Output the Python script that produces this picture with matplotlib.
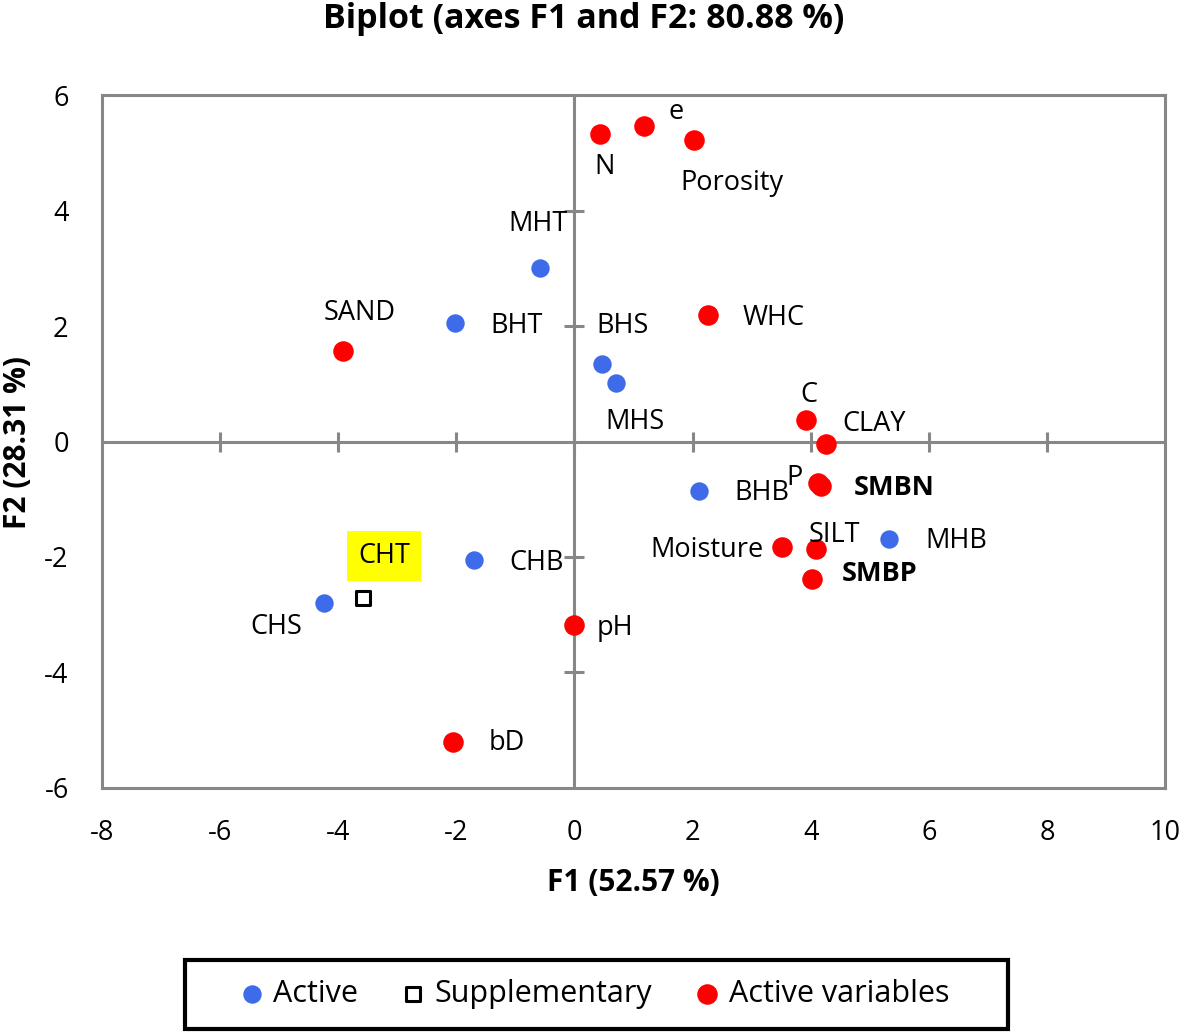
import matplotlib
matplotlib.use('Agg')
import matplotlib.pyplot as plt
from matplotlib.patches import Rectangle

plt.rcParams['font.family'] = ['Open Sans', 'DejaVu Sans']
plt.rcParams['axes.unicode_minus'] = False

# observations (active)
obs_names = ['MHT', 'BHT', 'BHS', 'MHS', 'BHB', 'MHB', 'CHB', 'CHS']
obs_x = [-0.58, -2.02, 0.47, 0.70, 2.11, 5.33, -1.70, -4.24]
obs_y = [3.00, 2.05, 1.34, 1.01, -0.86, -1.69, -2.05, -2.80]

# supplementary observation
sup_names = ['CHT']
sup_x = [-3.58]
sup_y = [-2.71]

# active variables
var_names = ['N', 'e', 'Porosity', 'SAND', 'WHC', 'C', 'CLAY', 'P', 'SMBN',
             'Moisture', 'SILT', 'SMBP', 'pH', 'bD']
var_x = [0.43, 1.18, 2.02, -3.92, 2.26, 3.92, 4.26, 4.12, 4.17,
         3.51, 4.09, 4.02, 0.0, -2.06]
var_y = [5.32, 5.46, 5.22, 1.57, 2.19, 0.37, -0.04, -0.72, -0.77,
         -1.83, -1.86, -2.38, -3.18, -5.20]

# label offsets in pixels (dx, dy up), horizontal alignment
offsets = {
    'MHT': (-2, 44, 'center'), 'BHT': (35, -3, 'left'), 'BHS': (20, 38, 'center'),
    'MHS': (19, -39, 'center'), 'BHB': (35, -2, 'left'), 'MHB': (36, -2, 'left'),
    'CHB': (35, -3, 'left'), 'CHS': (-48, -24, 'center'),
    'N': (5, -33, 'center'), 'e': (32, 14, 'center'), 'Porosity': (38, -43, 'center'),
    'SAND': (17, 38, 'center'), 'WHC': (35, -3, 'left'), 'C': (3, 25, 'center'),
    'CLAY': (16, 20, 'left'), 'P': (-23, 5, 'center'), 'SMBN': (33, -2, 'left'),
    'Moisture': (-18, -3, 'right'), 'SILT': (18, 14, 'center'), 'SMBP': (30, 5, 'left'),
    'pH': (22, -3, 'left'), 'bD': (36, -1, 'left'),
}
bold = ['SMBN', 'SMBP']
fs = 19.5

fig = plt.figure(figsize=(11.81, 10.33), dpi=100)
ax = fig.add_axes([0.0864, 0.2372, 0.9001, 0.6708])

grey = '#878787'
ax.set_xlim(-8, 10)
ax.set_ylim(-6, 6)
for s in ax.spines.values():
    s.set_color(grey)
    s.set_linewidth(2.2)
ax.set_xticks(range(-8, 11, 2))
ax.set_yticks(range(-6, 7, 2))
ax.tick_params(axis='x', length=0, labelsize=fs, pad=22)
ax.tick_params(axis='y', length=0, labelsize=fs, pad=24)

# zero lines with crossing ticks
ax.axhline(0, color=grey, lw=2.2, zorder=1)
ax.axvline(0, color=grey, lw=2.2, zorder=1)
ax.plot(range(-6, 10, 2), [0] * 8, ls='none', marker='|', ms=15, mew=2.2,
        color=grey, zorder=1)
ax.plot([0] * 4, [-4, -2, 2, 4], ls='none', marker='_', ms=15, mew=2.2,
        color=grey, zorder=1)

blue = '#3D6BE9'
ax.scatter(obs_x, obs_y, s=150, color=blue, zorder=3, label='Active')
ax.scatter(sup_x, sup_y, s=110, marker='s', facecolor='white', edgecolor='black',
           linewidth=2.2, zorder=3, label='Supplementary')
ax.scatter(var_x, var_y, s=190, color='#FF0000', zorder=3, label='Active variables')

for names, xs, ys in [(obs_names, obs_x, obs_y), (var_names, var_x, var_y)]:
    for n, x, y in zip(names, xs, ys):
        dx, dy, ha = offsets[n]
        ax.annotate(n, (x, y), xytext=(dx, dy), textcoords='offset pixels',
                    ha=ha, va='center', fontsize=fs,
                    fontweight='bold' if n in bold else 'normal')

ax.annotate(sup_names[0], (sup_x[0], sup_y[0]), xytext=(21, 42),
            textcoords='offset pixels', ha='center', va='center', fontsize=fs,
            bbox=dict(boxstyle='square,pad=0.4', facecolor='#FFFF00',
                      edgecolor='none'))

fig.text(0.494, 0.982, 'Biplot (axes F1 and F2: 80.88 %)', fontsize=24.5,
         fontweight='bold', ha='center', va='center')
fig.text(0.536, 0.145, 'F1 (52.57 %)', fontsize=21.5, fontweight='bold',
         ha='center', va='center')
fig.text(0.015, 0.572, 'F2 (28.31 %)', fontsize=21.5, fontweight='bold',
         ha='center', va='center', rotation=90)

# legend without its own frame, box drawn around it
fig.legend(loc='center', bbox_to_anchor=(0.504, 0.0378), ncol=3,
           fontsize=22, frameon=False, handlelength=0.7,
           handletextpad=0.35, columnspacing=1.45, borderpad=0,
           markerscale=1.0, borderaxespad=0)
fig.patches.append(Rectangle((0.1566, 0.0035), 0.6969, 0.0672,
                             transform=fig.transFigure, fill=False,
                             edgecolor='black', linewidth=3))

fig.savefig('out.png', dpi=100)
